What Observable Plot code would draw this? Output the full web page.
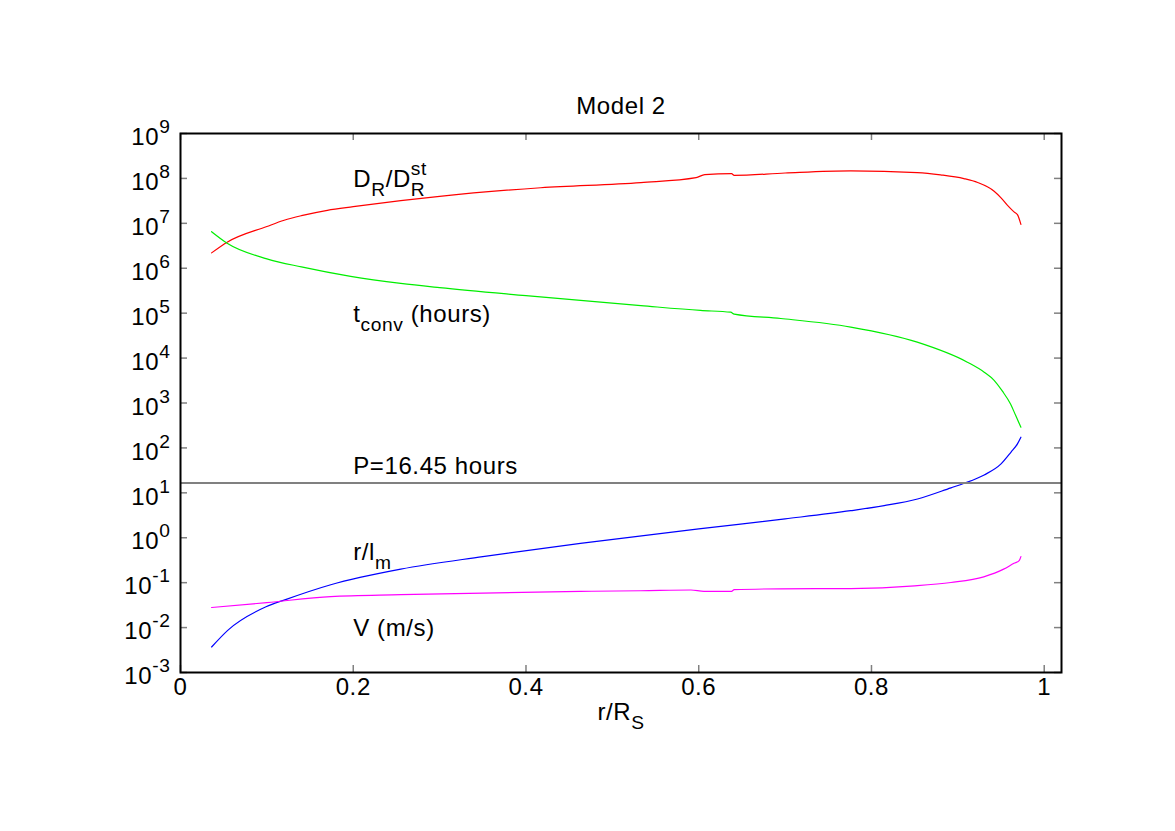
<!DOCTYPE html>
<html>
<head>
<meta charset="utf-8">
<script src="https://cdn.jsdelivr.net/npm/d3@7"></script>
<script src="https://cdn.jsdelivr.net/npm/@observablehq/plot@0.6"></script>
<style>
  html, body { margin: 0; padding: 0; background: #fff; }
  svg { display: block; }
</style>
</head>
<body>
<script>
// ---- data ----
const drX   = [0.036, 0.054, 0.1, 0.12, 0.14, 0.17, 0.2, 0.255, 0.3, 0.417, 0.533, 0.597, 0.607, 0.638, 0.641, 0.7, 0.776, 0.853, 0.88, 0.907, 0.923, 0.942, 0.95, 0.9575, 0.965, 0.969, 0.973];
const drVal = [2.2e6, 3.8e6, 8.5e6, 1.17e7, 1.48e7, 1.95e7, 2.35e7, 3.2e7, 4.0e7, 6.2e7, 8.1e7, 1.04e8, 1.22e8, 1.28e8, 1.17e8, 1.32e8, 1.47e8, 1.35e8, 1.2e8, 9.9e7, 8.1e7, 5.2e7, 3.7e7, 2.5e7, 1.8e7, 1.56e7, 9.5e6];

const tcX   = [0.036, 0.054, 0.1, 0.14, 0.197, 0.255, 0.3, 0.4, 0.533, 0.602, 0.637, 0.641, 0.695, 0.776, 0.853, 0.911, 0.9305, 0.942, 0.9516, 0.961, 0.967, 0.973];
const tcVal = [6.5e6, 3.6e6, 1.62e6, 1.07e6, 6.6e5, 4.6e5, 3.7e5, 2.45e5, 1.47e5, 1.15e5, 1.05e5, 9.5e4, 7.6e4, 4.9e4, 2.26e4, 8.1e3, 4.85e3, 3.2e3, 1.83e3, 9.5e2, 5.25e2, 2.9e2];

const rlX   = [0.036, 0.055, 0.099, 0.1216, 0.174, 0.255, 0.35, 0.463, 0.6, 0.7, 0.776, 0.8147, 0.8533, 0.892, 0.9074, 0.9305, 0.95, 0.9614, 0.969, 0.973];
const rlVal = [3.7e-3, 8.8e-3, 0.029, 0.042, 0.090, 0.20, 0.38, 0.75, 1.58, 2.63, 4.0, 5.2, 7.3, 12.9, 16.3, 25, 44, 80, 123, 173];

const vX    = [0.036, 0.1, 0.174, 0.255, 0.463, 0.533, 0.591, 0.606, 0.638, 0.641, 0.695, 0.776, 0.85, 0.892, 0.93, 0.953, 0.965, 0.971, 0.973];
const vVal  = [0.028, 0.036, 0.049, 0.054, 0.064, 0.066, 0.0686, 0.064, 0.064, 0.0697, 0.073, 0.074, 0.085, 0.101, 0.135, 0.20, 0.27, 0.31, 0.38];

const period = 16.45;

const yTicks = [1e-3, 1e-2, 1e-1, 1e0, 1e1, 1e2, 1e3, 1e4, 1e5, 1e6, 1e7, 1e8, 1e9];
const yTickLabels = ["10^{-3}", "10^{-2}", "10^{-1}", "10^{0}", "10^{1}", "10^{2}", "10^{3}", "10^{4}", "10^{5}", "10^{6}", "10^{7}", "10^{8}", "10^{9}"];
const xTicks = [0, 0.2, 0.4, 0.6, 0.8, 1];
const xTickLabels = ["0", "0.2", "0.4", "0.6", "0.8", "1"];

const labelTexts = ["D_{R}/D_{R}^{st}", "t_{conv} (hours)", "P=16.45 hours", "r/l_{m}", "V (m/s)"];
const labelX = [0.2, 0.2, 0.2, 0.2, 0.2];
const labelY = [1e8, 1e5, 40, 0.5, 0.01];

const title = "Model 2";
const xLabel = "r/R_{S}";

// ---- build ----
const W = 1175, H = 831, mL = 180, mR = 114, mT = 133, mB = 159;
const fw = W - mL - mR, fh = H - mT - mB;
const FS = 24;
const font = "'Liberation Sans', Arial, Helvetica, sans-serif";

const toRows = (xs, vs) => xs.map((x, i) => ({x, y: vs[i]}));
const tickRows = yTicks.map((v, i) => ({v, t: yTickLabels[i]}));
const xTickRows = xTicks.map((v, i) => ({v, t: xTickLabels[i]}));
const labelRows = labelTexts.map((t, i) => ({t, x: labelX[i], y: labelY[i]}));
const crv = "monotone-x";

const plot = Plot.plot({
  width: W, height: H,
  marginLeft: mL, marginRight: mR, marginTop: mT, marginBottom: mB,
  x: {domain: [0, 1.02], axis: null},
  y: {type: "log", domain: [1e-3, 1e9], axis: null},
  style: {fontFamily: font, fontSize: FS + "px", background: "#fff", color: "#000"},
  marks: [
    // inward ticks on all four sides
    Plot.tickY(yTicks, {y: d => d, stroke: "#808080", strokeWidth: 1.5, insetRight: fw - 7}),
    Plot.tickY(yTicks, {y: d => d, stroke: "#808080", strokeWidth: 1.5, insetLeft: fw - 7}),
    Plot.tickX(xTicks, {x: d => d, stroke: "#808080", strokeWidth: 1.5, insetTop: fh - 7}),
    Plot.tickX(xTicks, {x: d => d, stroke: "#808080", strokeWidth: 1.5, insetBottom: fh - 7}),
    // curves
    Plot.line(toRows(drX, drVal), {x: "x", y: "y", stroke: "#ff0000", strokeWidth: 1.2, curve: crv}),
    Plot.line(toRows(tcX, tcVal), {x: "x", y: "y", stroke: "#00ee00", strokeWidth: 1.2, curve: crv}),
    Plot.line(toRows(rlX, rlVal), {x: "x", y: "y", stroke: "#0000ff", strokeWidth: 1.2, curve: crv}),
    Plot.line(toRows(vX, vVal), {x: "x", y: "y", stroke: "#ff00ff", strokeWidth: 1.2, curve: crv}),
    Plot.ruleY([period], {stroke: "#808080", strokeWidth: 2}),
    // tick labels
    Plot.text(tickRows, {y: "v", text: "t", frameAnchor: "left", textAnchor: "end", dx: -10, dy: 4}),
    Plot.text(xTickRows, {x: "v", text: "t", frameAnchor: "bottom", dy: 22}),
    // curve labels
    Plot.text(labelRows, {x: "x", y: "y", text: "t", textAnchor: "start", dy: 1}),
    // title and axis label
    Plot.text([title], {text: d => d, frameAnchor: "top", dy: -37}),
    Plot.text([xLabel], {text: d => d, frameAnchor: "bottom", dy: 47}),
    Plot.frame({stroke: "#000", strokeWidth: 2})
  ]
});
document.body.append(plot);

// render _{sub} and ^{sup} markup as real tspans
const NS = "http://www.w3.org/2000/svg";
function rich(el) {
  const s = el.textContent;
  if (!/[_^]\{/.test(s)) return;
  el.textContent = "";
  const re = /([_^])\{([^}]*)\}|([^_^]+)/g;
  let m, cur = 0, lastSubW = 0, prevSub = false;
  while ((m = re.exec(s))) {
    const t = document.createElementNS(NS, "tspan");
    let target = 0, size = null, text;
    if (m[3] !== undefined) { text = m[3]; }
    else { text = m[2]; size = 0.8 * FS; target = m[1] === "_" ? 0.38 * FS : -0.5 * FS; }
    t.setAttribute("dy", target - cur);
    cur = target;
    if (size) t.setAttribute("font-size", size);
    if (m[1] === "^" && prevSub) t.setAttribute("dx", -lastSubW);
    t.textContent = text;
    el.appendChild(t);
    if (m[1] === "_") { lastSubW = t.getComputedTextLength(); prevSub = true; } else prevSub = false;
  }
}
plot.querySelectorAll("text").forEach(el => { el.style.letterSpacing = "0.6px"; rich(el); });
</script>
</body>
</html>
